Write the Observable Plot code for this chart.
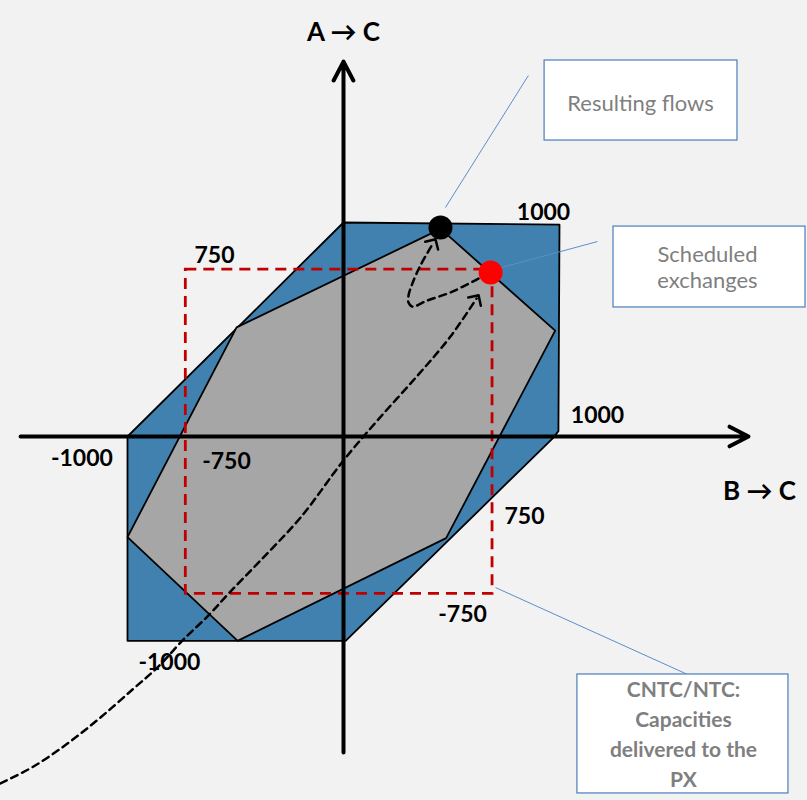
<!DOCTYPE html>
<html><head><meta charset="utf-8">
<script src="https://cdn.jsdelivr.net/npm/d3@7"></script>
<script src="https://cdn.jsdelivr.net/npm/@observablehq/plot@0.6"></script>
<style>
html,body{margin:0;padding:0;background:#f2f2f2;}
svg{display:block;}
</style></head><body><div id="chart"></div>
<script>
// ---- data (units of the two exchange axes) ----
const blueX = [-1000, 0, 1000, 995, 972, 10, -1000];
const blueY = [0, 1000, 990, 25, -5, -955, -955];
const grayX = [450, 980, 475, -490, -1000, -495];
const grayY = [970, 495, -475, -955, -470, 510];
const ntcX = [-730, 690];
const ntcY = [-735, 780];
const scheduled = [681, 766];
const resulting = [449, 977];
const pathX = [-1588, -1435, -1278, -1125, -972, -861, -745, -625, -532, -384, -199, 0, 157, 343, 495, 616];
const pathY = [-1621, -1542, -1435, -1313, -1178, -1079, -953, -836, -734, -579, -379, -112, 75, 285, 467, 645];
const loopX = [625, 495, 389, 319, 301, 301, 319, 356, 417];
const loopY = [738, 673, 636, 607, 626, 659, 715, 799, 907];
const axisXExtent = [-1495, 1875];
const axisYExtent = [-1477, 1752];
const tickText = ["1000", "750", "1000", "-1000", "-750", "750", "-750", "-1000"];
const tickX = [926, -597, 1176, -1211, -542, 838, 551, -806];
const tickY = [1014, 813, 61, -140, -154, -407, -869, -1093];
const axisNames = ["A \u2192 C", "B \u2192 C"];
const axisNameX = [0, 1926];
const axisNameY = [1850, -299];
const boxText = ["Resulting flows", "Scheduled\nexchanges", "CNTC/NTC:\nCapacities\ndelivered to the\nPX"];
const boxX1 = [931, 1250, 1083];
const boxX2 = [1824, 2139, 2060];
const boxY1 = [1383, 603, -1668];
const boxY2 = [1757, 981, -1112];
const boxTextX = [1375, 1685, 1574];
const boxTextY = [1520, 696, -1636];
const leaderX1 = [472, 681, 704];
const leaderY1 = [1070, 776, -706];
const leaderX2 = [856, 1176, 1593];
const leaderY2 = [1687, 911, -1112];

// ---- tables ----
const pts = (xs, ys) => xs.map((x, i) => ({x, y: ys[i]}));
const blue = pts(blueX, blueY);
const gray = pts(grayX, grayY);
const path = pts(pathX, pathY);
const loop = pts(loopX, loopY);
const ticks = tickText.map((t, i) => ({t, x: tickX[i], y: tickY[i]}));
const names = axisNames.map((t, i) => ({t, x: axisNameX[i], y: axisNameY[i]}));
const boxes = boxText.map((t, i) => ({t, x1: boxX1[i], x2: boxX2[i], y1: boxY1[i], y2: boxY2[i], tx: boxTextX[i], ty: boxTextY[i], bold: i === 2}));
const leaders = leaderX1.map((x1, i) => ({x1, y1: leaderY1[i], x2: leaderX2[i], y2: leaderY2[i]}));
const axes = [
  {x1: axisXExtent[0], y1: 0, x2: axisXExtent[1], y2: 0},
  {x1: 0, y1: axisYExtent[0], x2: 0, y2: axisYExtent[1]}
];
const dots = [{x: resulting[0], y: resulting[1], c: "#000000"}, {x: scheduled[0], y: scheduled[1], c: "#ff0000"}];

const font = "Lato, 'DejaVu Sans', sans-serif";

const chart = Plot.plot({
  width: 807,
  height: 800,
  margin: 0,
  style: {background: "#f2f2f2", fontFamily: font},
  x: {domain: [-1000, 1000], range: [127, 559], axis: null},
  y: {domain: [-1000, 1000], range: [650, 222], axis: null},
  marks: [
    Plot.line(blue, {x: "x", y: "y", curve: "linear-closed", fill: "#4181af", stroke: "#000", strokeWidth: 1.8, strokeLinejoin: "round"}),
    Plot.line(gray, {x: "x", y: "y", curve: "linear-closed", fill: "#a6a6a6", stroke: "#000", strokeWidth: 1.8, strokeLinejoin: "round"}),
    Plot.rect([0], {x1: () => ntcX[0], x2: () => ntcX[1], y1: () => ntcY[0], y2: () => ntcY[1], fill: "none", stroke: "#c00000", strokeWidth: 2.8, strokeDasharray: "11,7"}),
    Plot.arrow(axes, {x1: "x1", y1: "y1", x2: "x2", y2: "y2", stroke: "#000", strokeWidth: 4, headAngle: 55, headLength: 8}),
    Plot.link(leaders, {x1: "x1", y1: "y1", x2: "x2", y2: "y2", stroke: "#5b8fc9", strokeWidth: 1}),
    Plot.line(path, {x: "x", y: "y", curve: "catmull-rom", stroke: "#000", strokeWidth: 2.5, strokeDasharray: "7,5", markerEnd: "arrow"}),
    Plot.line(loop, {x: "x", y: "y", curve: "catmull-rom", stroke: "#000", strokeWidth: 2.5, strokeDasharray: "7,5", markerEnd: "arrow"}),
    Plot.dot(dots, {x: "x", y: "y", r: 12, fill: "c", stroke: "none"}),
    Plot.rect(boxes, {x1: "x1", x2: "x2", y1: "y1", y2: "y2", fill: "#ffffff", stroke: "#4a7ebb", strokeWidth: 1.2}),
    Plot.text(boxes.filter(d => !d.bold), {x: "tx", y: "ty", text: "t", fill: "#7f7f7f", fontSize: 22, lineAnchor: "bottom", lineHeight: 1.18, fontFamily: font}),
    Plot.text(boxes.filter(d => d.bold), {x: "tx", y: "ty", text: "t", fill: "#7f7f7f", fontSize: 21, fontWeight: "bold", lineAnchor: "bottom", lineHeight: 1.43, fontFamily: font}),
    Plot.text(ticks, {x: "x", y: "y", text: "t", fill: "#000", fontSize: 23, fontWeight: "bold", lineAnchor: "bottom", fontFamily: font}),
    Plot.text(names, {x: "x", y: "y", text: "t", fill: "#000", fontSize: 26, fontWeight: "bold", lineAnchor: "bottom", fontFamily: font})
  ]
});

// solid, slightly larger arrowheads on the dashed paths
chart.querySelectorAll("marker").forEach(m => {
  m.setAttribute("markerWidth", 10);
  m.setAttribute("markerHeight", 10);
  m.setAttribute("stroke-width", 1);
  m.setAttribute("stroke-dasharray", "none");
  m.querySelectorAll("path").forEach(p => p.setAttribute("stroke-dasharray", "none"));
});

document.getElementById("chart").appendChild(chart);
</script>
</body></html>
